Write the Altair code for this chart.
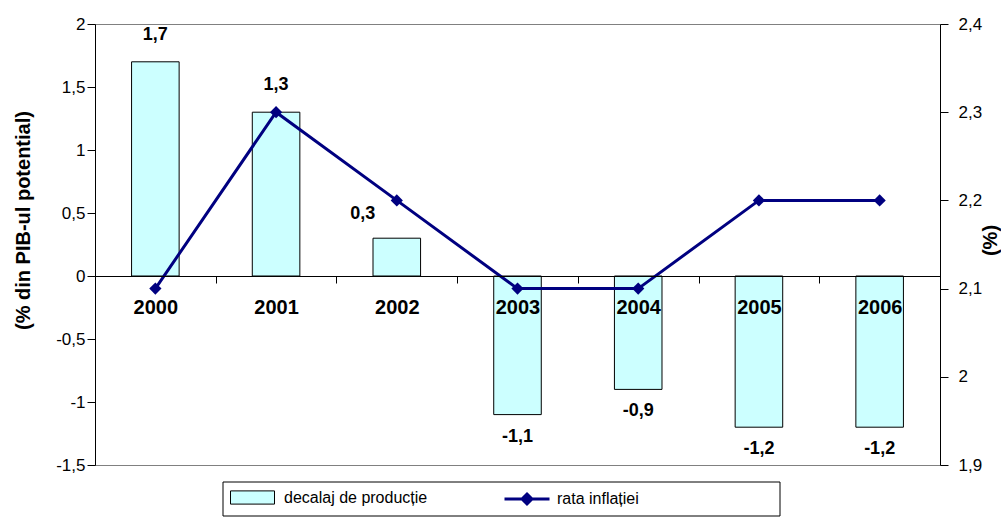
import altair as alt
import pandas as pd

# Output gap (% of potential GDP) and inflation rate (%), 2000-2006
years = ["2000", "2001", "2002", "2003", "2004", "2005", "2006"]
output_gap = [1.7, 1.3, 0.3, -1.1, -0.9, -1.2, -1.2]
inflation = [2.1, 2.3, 2.2, 2.1, 2.1, 2.2, 2.2]

gap_ticks = [-1.5, -1, -0.5, 0, 0.5, 1, 1.5, 2]
infl_ticks = [1.9, 2, 2.1, 2.2, 2.3, 2.4]
gap_domain = [-1.5, 2]
infl_domain = [1.9, 2.4]

GAP_NAME = "decalaj de producție"
INFL_NAME = "rata inflației"

FONT = "Liberation Sans"
W, H = 845, 441
BAR_FILL = "#CCFFFF"
NAVY = "#000080"
COMMA = "replace(toString(datum.value), '.', ',')"

df = pd.DataFrame({
    "an": years,
    "decalaj": output_gap,
    "inflatie": inflation,
    "s_gap": GAP_NAME,
    "s_infl": INFL_NAME,
})

# the category axis sits on the zero line of the left scale
zero_offset = -(0 - gap_domain[0]) / (gap_domain[1] - gap_domain[0]) * H

x_enc = alt.X(
    "an:N",
    sort=years,
    scale=alt.Scale(type="band", paddingInner=0, paddingOuter=0),
    axis=alt.Axis(
        title=None, orient="bottom", offset=zero_offset, tickBand="extent",
        tickSize=7, tickColor="black", domainColor="black", labelAngle=0,
        labelFont=FONT, labelFontWeight="bold", labelFontSize=20,
        labelColor="black", labelPadding=14, zindex=1,
    ),
)
x_plain = alt.X("an:N", sort=years, scale=alt.Scale(type="band"))

gap_scale = alt.Scale(domain=gap_domain, nice=False)
infl_scale = alt.Scale(domain=infl_domain, nice=False)

left_axis = alt.Axis(
    values=gap_ticks, labelExpr=COMMA, grid=False, tickSize=8,
    tickColor="black", domainColor="black", labelPadding=2,
    labelFont=FONT, labelFontSize=17, labelColor="black",
    title="(% din PIB-ul potential)", titleFont=FONT, titleFontSize=20,
    titleFontWeight="bold", titleColor="black", titleAngle=270,
    titleAlign="center", titleBaseline="middle", titleX=-72, titleY=196,
)
right_axis = alt.Axis(
    orient="right", values=infl_ticks, labelExpr=COMMA, grid=False,
    tickSize=8, tickColor="black", domainColor="black", labelPadding=10,
    labelFont=FONT, labelFontSize=17, labelColor="black",
    title="(%)", titleFont=FONT, titleFontSize=20, titleFontWeight="bold",
    titleColor="black", titleAngle=270, titleAlign="center",
    titleBaseline="middle", titleX=50, titleY=216,
)

bars = alt.Chart(df).mark_bar(
    width=alt.RelativeBandSize(0.394), stroke="black", strokeWidth=1
).encode(
    x=x_enc,
    y=alt.Y("decalaj:Q", scale=gap_scale, axis=left_axis),
    fill=alt.Fill(
        "s_gap:N",
        scale=alt.Scale(domain=[GAP_NAME], range=[BAR_FILL]),
        legend=alt.Legend(
            title=None, orient="none", legendX=135, legendY=451,
            direction="horizontal", padding=0,
            symbolType="M-1,-0.3L1,-0.3L1,0.3L-1,0.3Z", symbolSize=1936,
            symbolStrokeColor="black", symbolStrokeWidth=1,
            labelFont=FONT, labelFontSize=16, labelColor="black",
            labelOffset=9,
        ),
    ),
)

label_base = alt.Chart(df).transform_calculate(
    txt="replace(toString(datum.decalaj), '.', ',')"
)
label_style = dict(font=FONT, fontSize=18, fontWeight="bold", color="black",
                   baseline="middle", align="center")

labels_pos = label_base.transform_filter(
    "datum.decalaj > 0 && datum.an != '2002'"
).mark_text(dy=-27, **label_style).encode(
    x=x_plain, y=alt.Y("decalaj:Q", scale=gap_scale), text="txt:N"
)
labels_small = label_base.transform_filter(
    "datum.an == '2002'"
).mark_text(dy=-24, dx=-34, **label_style).encode(
    x=x_plain, y=alt.Y("decalaj:Q", scale=gap_scale), text="txt:N"
)
labels_neg = label_base.transform_filter(
    "datum.decalaj < 0"
).mark_text(dy=22, **label_style).encode(
    x=x_plain, y=alt.Y("decalaj:Q", scale=gap_scale), text="txt:N"
)

gap_layer = alt.layer(bars, labels_pos, labels_small, labels_neg)

line = alt.Chart(df).mark_line(strokeWidth=3).encode(
    x=x_plain,
    y=alt.Y("inflatie:Q", scale=infl_scale, axis=right_axis),
    stroke=alt.Stroke(
        "s_infl:N",
        scale=alt.Scale(domain=[INFL_NAME], range=[NAVY]),
        legend=alt.Legend(
            title=None, orient="none", legendX=408, legendY=451,
            direction="horizontal", padding=0,
            symbolType="M-1,0L1,0M0,-0.22L0.22,0L0,0.22L-0.22,0Z",
            symbolSize=2025, symbolFillColor=NAVY, symbolStrokeWidth=3,
            labelFont=FONT, labelFontSize=16, labelColor="black",
            labelOffset=6,
        ),
    ),
)
points = alt.Chart(df).mark_point(
    shape="diamond", filled=True, size=150, color=NAVY, opacity=1
).encode(
    x=x_plain,
    y=alt.Y("inflatie:Q", scale=infl_scale),
)
infl_layer = alt.layer(line, points)

# frame around the legend entries
legend_frame = alt.Chart(pd.DataFrame({"k": [0]})).mark_rect(
    fillOpacity=0, stroke="black", strokeWidth=1
).encode(
    x=alt.value(128), x2=alt.value(685), y=alt.value(458), y2=alt.value(492)
)

chart = alt.layer(gap_layer, infl_layer, legend_frame).resolve_scale(
    y="independent"
).properties(
    width=W, height=H,
    padding={"left": 95, "top": 24, "right": 61, "bottom": 55},
    autosize=alt.AutoSizeParams(type="none"),
    background="white",
).configure_view(stroke="#808080", strokeWidth=1)

chart.save("out.html", embed_options={"renderer": "svg", "actions": False})
